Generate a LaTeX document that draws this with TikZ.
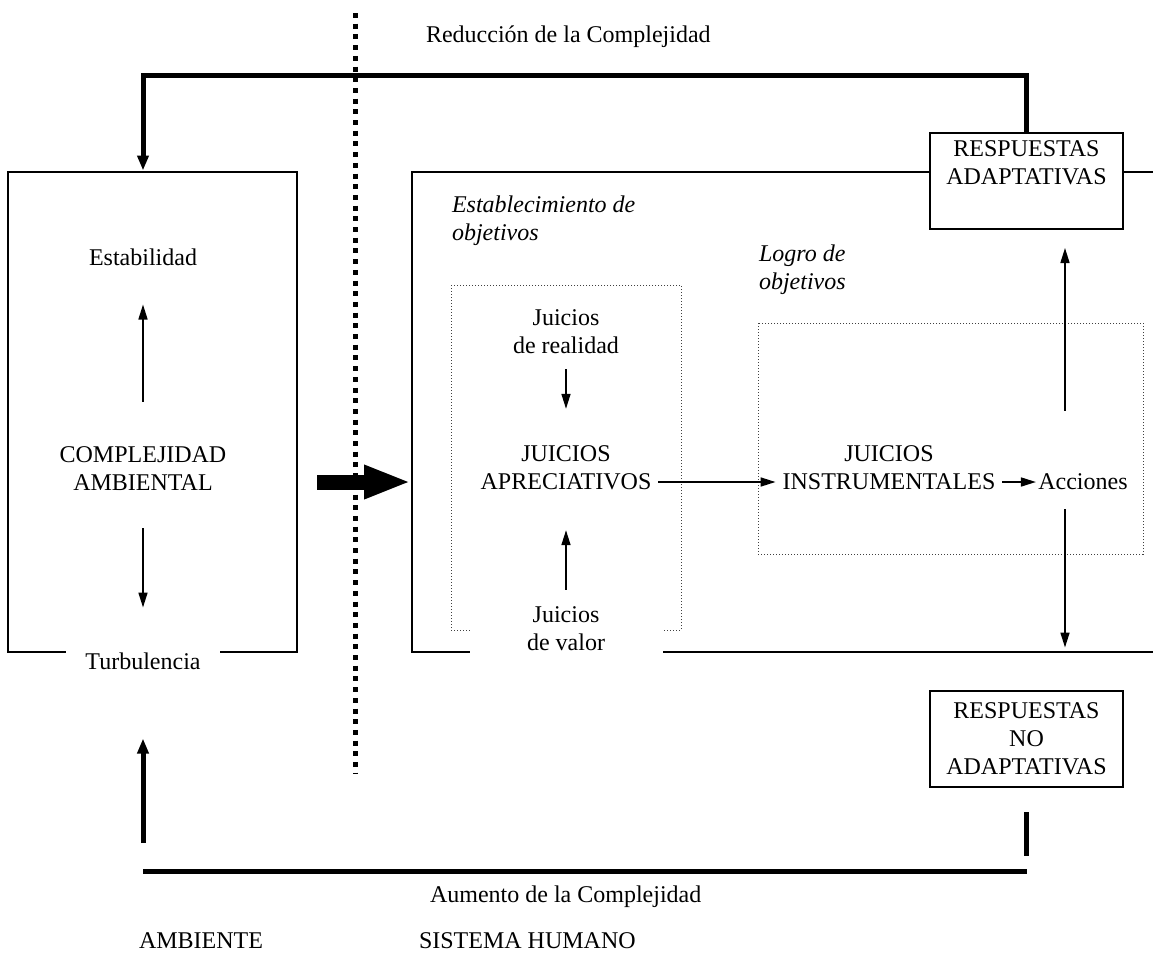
\documentclass[tikz,border=0pt]{standalone}
\usepackage{fontspec}
\setmainfont{Liberation Serif}
\usetikzlibrary{positioning}
\usetikzlibrary{arrows.meta}

\begin{document}
\begin{tikzpicture}[x=0.5pt,y=-0.5pt,on grid,font=\fontsize{12}{14}\selectfont,
  txt/.style={align=center},
  it/.style={font=\fontsize{12}{14}\selectfont\itshape,align=left,anchor=west},
  caja/.style={draw,line width=1pt,minimum height=240pt},
  resp/.style={draw,line width=1pt,fill=white,align=center,minimum width=96.5pt,minimum height=48pt},
  marco/.style={draw,densely dotted,line width=0.5pt,black!75},
  tapa/.style={fill=white,align=center},
  flecha/.style={line width=0.8pt,-{Triangle[length=7.5pt,width=4.5pt]}},
  gruesa/.style={line width=2.5pt}]
  \useasboundingbox (0,0) rectangle (1153,955);
  \draw[marco] (451,285) rectangle (681,630);
  \draw[marco] (758,323) rectangle (1143,554);
  \node[caja,minimum width=144.5pt] (ambbox) at (152.5,411.5) {};
  \node[caja,minimum width=379pt] (sysbox) at (791,411.5) {};
  \coordinate (arriba) at (0,75);
  \coordinate (abajo) at (0,871);

  \node[txt] (complej) at (143,469) {COMPLEJIDAD\\AMBIENTAL};
  \node (estab) [above=106pt of complej] {Estabilidad};
  \node[tapa,minimum width=77pt] (turb) [below=96pt of complej] {Turbulencia};
  \node[txt] (aprec) at (566,468) {JUICIOS\\APRECIATIVOS};
  \node[txt] (realidad) [above=68pt of aprec] {Juicios\\de realidad};
  \node[tapa,minimum width=96.5pt] (valor) [below=80.5pt of aprec] {Juicios\\de valor};
  \node[txt] (instr) [right=161.5pt of aprec] {JUICIOS\\INSTRUMENTALES};
  \node[inner xsep=1pt] (acciones) at (1083,482) {Acciones};
  \node[resp] (adapt) at (1026.5,181) {RESPUESTAS\\ADAPTATIVAS\\\strut};
  \node[resp] (noadapt) at (1026.5,739) {RESPUESTAS\\NO\\ADAPTATIVAS};
  \node[it] (establ) at (445,221) {Establecimiento de\\objetivos};
  \node[it] (logro) at (752,270) {Logro de\\objetivos};
  \node[anchor=west] (reduc) at (419,37) {Reducción de la Complejidad};
  \node[anchor=west] (aumento) at (423,897) {Aumento de la Complejidad};
  \node[anchor=west] (amb) at (132,941) {AMBIENTE};
  \node[anchor=west] (sis) at (412,941) {SISTEMA HUMANO};

  \draw[flecha,shorten <=19pt,shorten >=16pt] (complej) -- (estab);
  \draw[flecha,shorten <=15pt,shorten >=19pt] (complej) -- (turb);
  \draw[flecha,shorten <=4pt,shorten >=15pt] (realidad) -- (aprec);
  \draw[flecha,shorten >=16.5pt] ([yshift=5pt]valor.north) -- (aprec);
  \draw[flecha] (aprec.east |- acciones) -- (instr.west |- acciones);
  \draw[flecha] (instr.east |- acciones) -- (acciones);
  \draw[flecha,shorten <=28pt,shorten >=9pt] ([xshift=-9pt]acciones.north) -- ([xshift=-9pt]acciones.north |- adapt.south);
  \draw[flecha,shorten <=6pt,shorten >=2.5pt] ([xshift=-9pt]acciones.south) -- ([xshift=-9pt]acciones.south |- sysbox.south);
  \draw[line width=7.5pt,-{Triangle[length=23.5pt,width=15.5pt]},shorten <=9.5pt] (ambbox.east |- acciones) -- (sysbox.west |- acciones);

  \draw[gruesa,-{Triangle[length=7.5pt,width=5.5pt]}] (adapt.north) |- (estab |- arriba) -- (estab |- ambbox.north);
  \draw[gruesa,shorten <=12pt,shorten >=7.5pt] (noadapt.south) -- (noadapt.south |- abajo);
  \draw[gruesa] (estab |- abajo) -- (noadapt.south |- abajo);
  \draw[gruesa,-{Triangle[length=7.5pt,width=5.5pt]},shorten <=14pt,shorten >=31pt] (turb |- abajo) -- (turb);

  \draw[line width=2.5pt,dash pattern=on 2.5pt off 2.85pt] (355,13) -- (355,773);
\end{tikzpicture}
\end{document}
